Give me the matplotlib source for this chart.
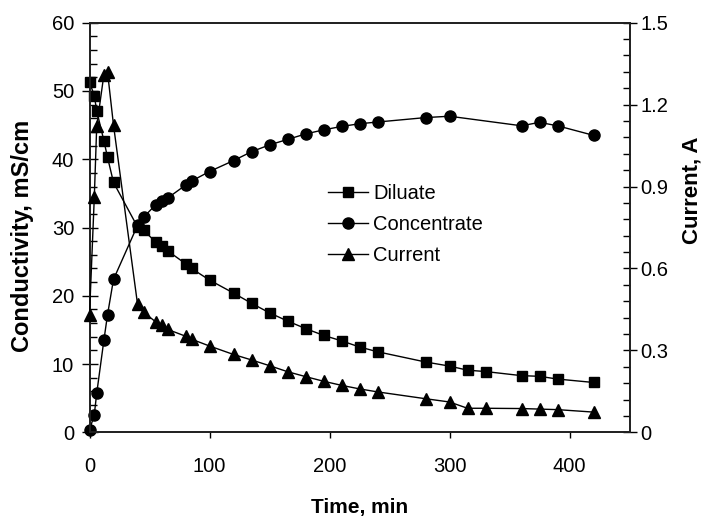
import numpy as np
import matplotlib
matplotlib.use("Agg")
import matplotlib.pyplot as plt
from matplotlib.ticker import MultipleLocator, FuncFormatter

plt.rcParams['font.family'] = ['Liberation Sans', 'DejaVu Sans']

# sampling times, min
t_dil = [0, 4, 6, 12, 15, 20, 40, 45, 55, 60, 65, 80, 85, 100, 120, 135, 150, 165,
         180, 195, 210, 225, 240, 280, 300, 315, 330, 360, 375, 390, 420]
t_con = [0, 4, 6, 12, 15, 20, 40, 45, 55, 60, 65, 80, 85, 100, 120, 135, 150, 165,
         180, 195, 210, 225, 240, 280, 300, 360, 375, 390, 420]

# conductivity, mS/cm
diluate = [51.3, 49.3, 47.1, 42.7, 40.3, 36.6, 30.1, 29.6, 27.9, 27.3, 26.6, 24.7,
           24.0, 22.3, 20.4, 18.9, 17.5, 16.3, 15.2, 14.2, 13.4, 12.5, 11.8, 10.3,
           9.7, 9.1, 8.9, 8.3, 8.2, 7.8, 7.3]
concentrate = [0.3, 2.6, 5.7, 13.5, 17.2, 22.4, 30.3, 31.5, 33.3, 33.9, 34.3, 36.2,
               36.8, 38.2, 39.8, 41.1, 42.1, 42.9, 43.7, 44.3, 44.8, 45.2, 45.45,
               46.1, 46.3, 44.9, 45.4, 44.9, 43.5]

# current, A
current = [0.43, 0.86, 1.12, 1.31, 1.32, 1.125, 0.47, 0.44, 0.405, 0.393, 0.377,
           0.352, 0.341, 0.316, 0.285, 0.265, 0.244, 0.222, 0.204, 0.187, 0.172,
           0.159, 0.148, 0.123, 0.111, 0.088, 0.088, 0.087, 0.085, 0.083, 0.074]

fs = 14.5
fig = plt.figure(figsize=(7.07, 5.24), dpi=100)
ax = fig.add_axes([89.5 / 707, 1 - 432.3 / 524, 540 / 707, 409.6 / 524])
ax2 = ax.twinx()

l1, = ax.plot(t_dil, diluate, color='black', lw=1, marker='s', ms=7.5,
              clip_on=False, zorder=3, label='Diluate')
l2, = ax.plot(t_con, concentrate, color='black', lw=1, marker='o', ms=8,
              clip_on=False, zorder=3, label='Concentrate')
l3, = ax2.plot(t_dil, current, color='black', lw=1, marker='^', ms=9,
               clip_on=False, zorder=3, label='Current')

ax.set_xlim(0, 450)
ax.set_ylim(0, 60)
ax2.set_ylim(0, 1.5)

ax.xaxis.set_major_locator(MultipleLocator(100))
ax.yaxis.set_major_locator(MultipleLocator(10))
ax.yaxis.set_minor_locator(MultipleLocator(2))
ax2.yaxis.set_major_locator(MultipleLocator(0.3))
ax2.yaxis.set_minor_locator(MultipleLocator(0.06))
ax2.yaxis.set_major_formatter(FuncFormatter(lambda v, p: f"{v:g}"))

ax.tick_params(axis='x', direction='out', length=4.5, width=1, labelsize=fs, pad=13)
ax.tick_params(axis='y', which='major', direction='inout', length=12, width=1,
               labelsize=fs, pad=5)
ax.tick_params(axis='y', which='minor', direction='in', length=5, width=1)
ax2.tick_params(axis='y', which='major', direction='inout', length=10, width=1,
                labelsize=fs, pad=3)
ax2.tick_params(axis='y', which='minor', direction='in', length=5, width=1)

for a in (ax, ax2):
    for s in a.spines.values():
        s.set_linewidth(1.3)
        s.set_color('#222222')

ax.set_xlabel('Time, min', fontsize=15, fontweight='bold', labelpad=16)
ax.set_ylabel('Conductivity, mS/cm', fontsize=17, fontweight='bold')
ax.yaxis.set_label_coords(-0.103, 0.48)
ax2.set_ylabel('Current, A', fontsize=16, fontweight='bold')
ax2.yaxis.set_label_coords(1.097, 0.59)

ax.legend(handles=[l1, l2, l3], loc='upper left', bbox_to_anchor=(0.442, 0.606),
          frameon=False, fontsize=14.5, borderpad=0, borderaxespad=0,
          handlelength=2.0, handletextpad=0.25, labelspacing=0.6)

fig.savefig('out.png', dpi=100)
